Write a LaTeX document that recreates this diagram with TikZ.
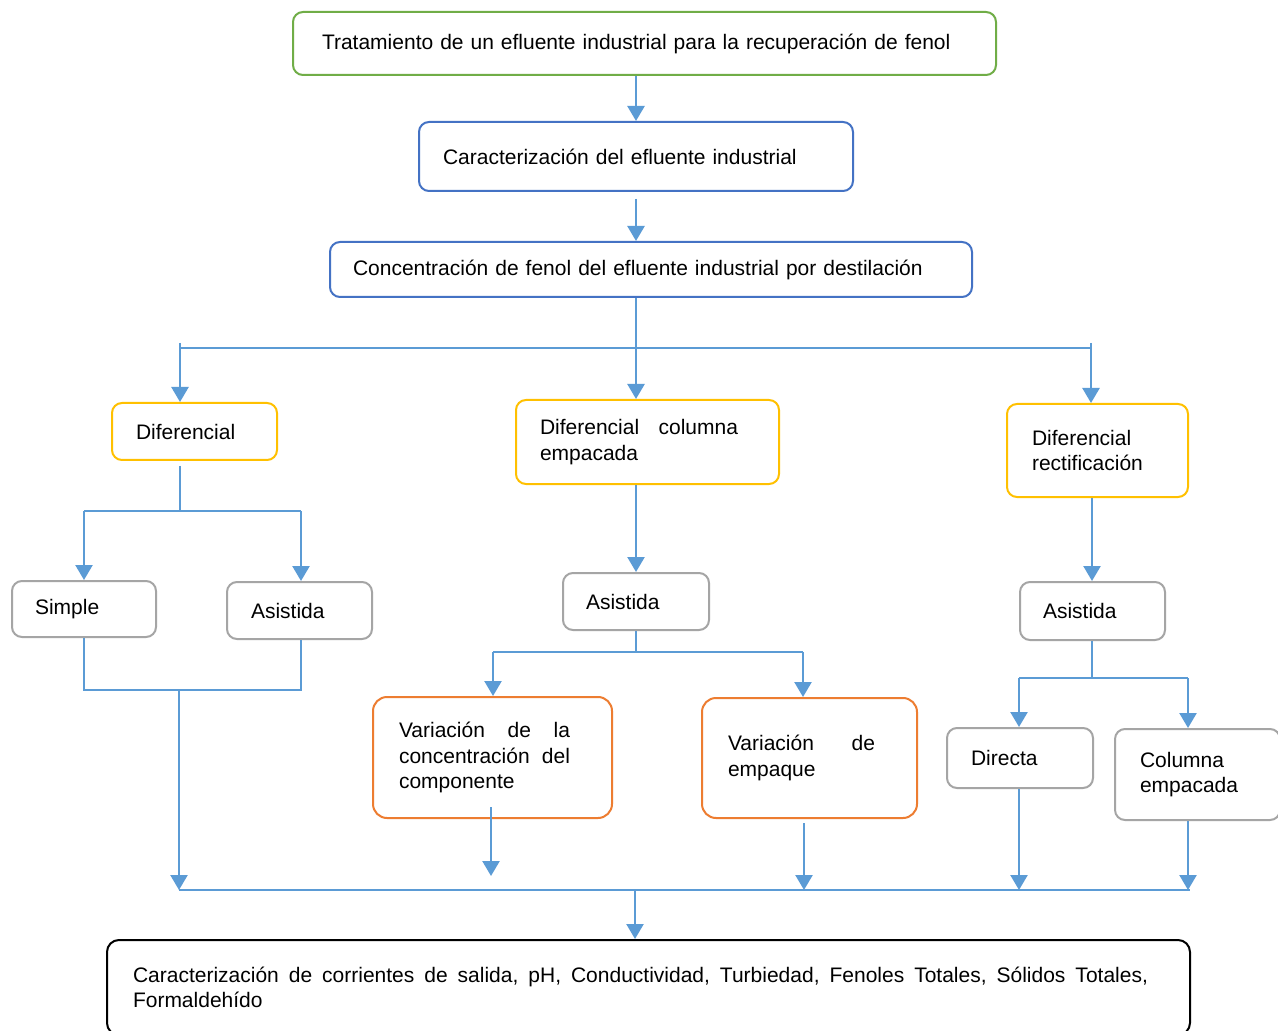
\documentclass[tikz,border=0pt]{standalone}
\usepackage{fontspec}
\setmainfont{Liberation Sans}
\usetikzlibrary{arrows.meta,calc}
\definecolor{boxgreen}{HTML}{70AD47}
\definecolor{boxblue}{HTML}{4472C4}
\definecolor{boxyellow}{HTML}{FFC000}
\definecolor{boxorange}{HTML}{ED7D31}
\definecolor{boxgray}{HTML}{A5A5A5}
\definecolor{linkblue}{HTML}{5B9BD5}
\tikzset{flowbox/.style={draw, rounded corners=5pt, line width=1pt, font=\fontsize{10.5}{12.75}\selectfont, align=left, inner ysep=0pt},
         arr/.style={-{Triangle[width=8.5pt,length=7.5pt]}, linkblue, line width=1.2pt},
         bus/.style={linkblue, line width=0.7pt}}

\begin{document}
\begin{tikzpicture}[x=0.5pt,y=-0.5pt]
   \path[use as bounding box, fill=white] (0,0) rectangle (1278,1031);
   % boxes
   \node[flowbox, draw=boxgreen, text width=322.5pt, inner xsep=14.5pt, minimum height=31.5pt] (trat) at (644.5,43.5) {Tratamiento de un efluente industrial para la recuperación de fenol};
   \node[flowbox, draw=boxblue, text width=193pt, inner xsep=12pt, minimum height=34.5pt] (carac) at (636,156.5) {Caracterización del efluente industrial};
   \node[flowbox, draw=boxblue, text width=298pt, inner xsep=11.5pt, minimum height=27.5pt] (conc) at (651,269.5) {Concentración de fenol del efluente industrial por destilación};
   \node[flowbox, draw=boxyellow, text width=58.5pt, inner xsep=12pt, minimum height=28.5pt] (dif) at (194.5,431.5) {Diferencial};
   \node[flowbox, draw=boxyellow, text width=107.5pt, inner xsep=12pt, minimum height=42pt] (difcol) at (647.5,442) {\makebox[99pt][l]{Diferencial\hfill columna}\\empacada};
   \node[flowbox, draw=boxyellow, text width=65.5pt, inner xsep=12.5pt, minimum height=46.5pt] (difrec) at (1097.5,450.5) {Diferencial\\rectificación};
   \node[flowbox, draw=boxgray, text width=49pt, inner xsep=11.5pt, minimum height=28pt] (simple) at (84,609) {Simple};
   \node[flowbox, draw=boxgray, text width=48.5pt, inner xsep=12pt, minimum height=28.5pt] (asisA) at (299.5,610.5) {Asistida};
   \node[flowbox, draw=boxgray, text width=50pt, inner xsep=11.5pt, minimum height=28.5pt] (asisB) at (636,601.5) {Asistida};
   \node[flowbox, draw=boxgray, text width=49.5pt, inner xsep=11.5pt, minimum height=29pt] (asisC) at (1092.5,611) {Asistida};
   \node[flowbox, draw=boxorange, rounded corners=7pt, text width=93.5pt, inner xsep=13pt, minimum height=60.5pt] (varconc) at (492.5,757.5) {\makebox[85.5pt][l]{Variación\hfill de\hfill la}\\\makebox[85.5pt][l]{concentración\hfill del}\\componente};
   \node[flowbox, draw=boxorange, rounded corners=7pt, text width=81.5pt, inner xsep=13pt, minimum height=60pt] (varemp) at (809.5,758) {\makebox[73.5pt][l]{Variación\hfill de}\\empaque};
   \node[flowbox, draw=boxgray, text width=49pt, inner xsep=12pt, minimum height=30pt] (directa) at (1020,758) {Directa};
   \node[flowbox, draw=boxgray, text width=57.5pt, inner xsep=12.5pt, minimum height=45.5pt] (colemp) at (1197.5,774.5) {Columna\\empacada};
   \node[flowbox, draw=black, rounded corners=6pt, text width=515.5pt, inner xsep=13pt, minimum height=47.5pt] (salida) at (648.5,987.5) {\makebox[507.5pt][l]{Caracterización\hfill de\hfill corrientes\hfill de\hfill salida,\hfill pH,\hfill Conductividad,\hfill Turbiedad,\hfill Fenoles\hfill Totales,\hfill Sólidos\hfill Totales,}\\Formaldehído};
   % junctions
   \coordinate (j1) at (636,348);
   \coordinate (j1w) at (180,348);
   \coordinate (j1e) at (1091,348);
   \coordinate (j2) at (180,511);
   \coordinate (j2w) at (84,511);
   \coordinate (j2e) at (301,511);
   \coordinate (j3) at (179,690);
   \coordinate (j3w) at (84,690);
   \coordinate (j3e) at (301,690);
   \coordinate (j4) at (636,652);
   \coordinate (j4w) at (493,652);
   \coordinate (j4e) at (803,652);
   \coordinate (j5) at (1092,678);
   \coordinate (j5w) at (1019,678);
   \coordinate (j5e) at (1188,678);
   \coordinate (j9) at (635,890);
   \coordinate (j9w) at (179,890);
   \coordinate (j9e) at (1190,890);
   \coordinate (k1) at (491,876);
   \coordinate (k2) at (804,890);
   % connectors
   \draw[arr] (carac.north |- trat.south) -- (carac.north);
   \draw[arr] ($(carac.south)+(0,7)$) -- (carac.south |- conc.north);
   \draw[arr] (conc.south -| j1) -- (difcol.north -| j1);
   \draw[bus] (j1w) -- (j1e);
   \draw[arr] ($(j1w)+(0,-5)$) -- (dif.north -| j1w);
   \draw[arr] ($(j1e)+(0,-5)$) -- (difrec.north -| j1e);
   \draw[bus] ($(dif.south -| j2)+(0,5)$) -- (j2);
   \draw[bus] (j2w) -- (j2e);
   \draw[arr] (j2w) -- (simple.north -| j2w);
   \draw[arr] (j2e) -- (asisA.north -| j2e);
   \draw[bus] (simple.south -| j3w) -- (j3w) -- (j3e) -- (asisA.south -| j3e);
   \draw[arr] (j3) -- (j9w);
   \draw[arr] (difcol.south -| j1) -- (asisB.north -| j1);
   \draw[bus] (asisB.south -| j4) -- (j4);
   \draw[bus] (j4w) -- (j4e);
   \draw[arr] (j4w) -- (varconc.north -| j4w);
   \draw[arr] (j4e) -- (varemp.north -| j4e);
   \draw[arr] ($(varconc.south -| k1)+(0,-12)$) -- (k1);
   \draw[arr] ($(varemp.south -| k2)+(0,4)$) -- (k2);
   \draw[arr] (difrec.south -| j5) -- (asisC.north -| j5);
   \draw[bus] (asisC.south -| j5) -- (j5);
   \draw[bus] (j5w) -- (j5e);
   \draw[arr] (j5w) -- (directa.north -| j5w);
   \draw[arr] (j5e) -- (colemp.north -| j5e);
   \draw[arr] (directa.south -| j5w) -- (j9w -| j5w);
   \draw[arr] (colemp.south -| j5e) -- (j9w -| j5e);
   \draw[bus] (j9w) -- (j9e);
   \draw[arr] (j9) -- (salida.north -| j9);
\end{tikzpicture}
\end{document}
